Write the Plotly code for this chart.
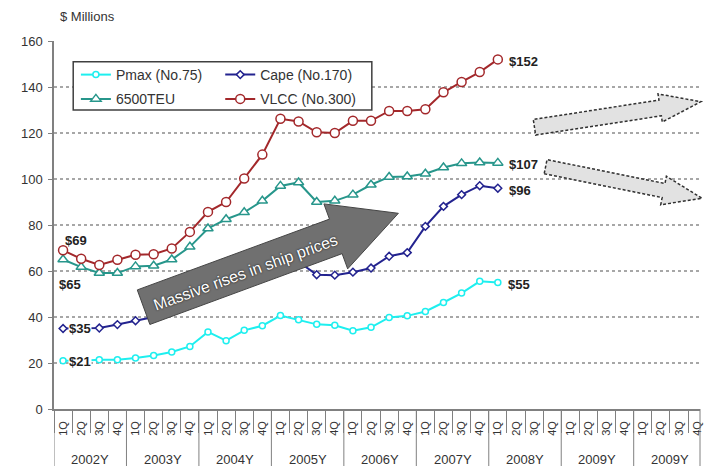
import math
import plotly.graph_objects as go

# Quarterly axis: four quarters inside each year group
quarters = ["1Q", "2Q", "3Q", "4Q"]
years = ["2002Y", "2003Y", "2004Y", "2005Y", "2006Y", "2007Y", "2008Y", "2009Y", "2009Y"]

# Newbuilding prices, $ millions, 2002 1Q .. 2008 1Q
pmax = [21, 21, 21.4, 21.4, 22.2, 23.3, 24.8, 27.2, 33.5, 29.7, 34.2, 36.2, 40.6,
        38.8, 36.8, 36.4, 34.0, 35.5, 39.8, 40.5, 42.4, 46.3, 50.4, 55.5, 55]
cape = [35, 35, 35.2, 36.7, 38.4, 40, 43, 47, 52, 56, 60, 63, 66,
        64, 58.4, 58.2, 59.5, 61.3, 66.4, 68.0, 79.4, 88.1, 93.2, 97.1, 96]
teu6500 = [65, 61.7, 59.1, 59.1, 62, 62.3, 65, 70.5, 78.5, 82.5, 85.5, 90.5, 97,
           98.5, 90, 90.5, 93.2, 97.5, 100.9, 101.1, 102.3, 105, 106.8, 107.2, 107]
vlcc = [69, 65.3, 62.6, 64.9, 67.1, 67.3, 69.8, 77, 85.7, 90, 100.2, 110.6, 126.2,
        125, 120.3, 120, 125.3, 125.3, 129.6, 129.6, 130.3, 137.7, 142.2, 146.5, 152]

series = [
    ("Pmax (No.75)", pmax, "#1EEFEF", "circle", 6, "legend"),
    ("Cape (No.170)", cape, "#23238F", "diamond", 6, "legend2"),
    ("6500TEU", teu6500, "#27968B", "triangle-up", 9, "legend3"),
    ("VLCC (No.300)", vlcc, "#A3282B", "circle", 9, "legend4"),
]

n_periods = len(years) * len(quarters)
periods = list(range(n_periods))
period_text = [q for _ in years for q in quarters]

# Figure geometry (pixels)
W, H = 712, 466
ML, MR, MT, MB = 54, 9, 41, 57
PW, PH = W - ML - MR, H - MT - MB
BOTTOM = H - MB


def px(x):
    return (x - ML) / PW


def py(y):
    return (BOTTOM - y) / PH


def block_arrow(tail, tip, body_hw, head_hw, head_len):
    (x0, y0), (x1, y1) = tail, tip
    dx, dy = x1 - x0, y1 - y0
    L = math.hypot(dx, dy)
    ux, uy = dx / L, dy / L
    nx, ny = -uy, ux
    bx, by = x1 - ux * head_len, y1 - uy * head_len
    pts = [
        (x0 + nx * body_hw, y0 + ny * body_hw),
        (bx + nx * body_hw, by + ny * body_hw),
        (bx + nx * head_hw, by + ny * head_hw),
        (x1, y1),
        (bx - nx * head_hw, by - ny * head_hw),
        (bx - nx * body_hw, by - ny * body_hw),
        (x0 - nx * body_hw, y0 - ny * body_hw),
    ]
    return "M " + " L ".join(f"{px(a):.4f},{py(b):.4f}" for a, b in pts) + " Z"


fig = go.Figure()

for name, vals, color, symbol, size, leg in series:
    fig.add_trace(go.Scatter(
        x=periods[:len(vals)], y=vals, name=name, mode="lines+markers",
        line=dict(color=color, width=2),
        marker=dict(symbol=symbol, size=size, color="white",
                    line=dict(color=color, width=1.5)),
        legend=leg, showlegend=True,
    ))

shapes = []
# dotted horizontal gridlines
for v in range(20, 160, 20):
    shapes.append(dict(type="line", xref="paper", yref="y", x0=0, x1=1, y0=v, y1=v,
                       line=dict(color="#8A8A8A", width=1.3, dash="3px,3px"), layer="below"))
# year group separators below the axis
for k in range(len(years)):
    xb = 4 * k - 0.5
    shapes.append(dict(type="line", xref="x", yref="paper", x0=xb, x1=xb, y0=0, y1=-MB / PH,
                       line=dict(color="#808080", width=1)))
shapes.append(dict(type="line", xref="paper", yref="paper", x0=1, x1=1, y0=0, y1=-MB / PH,
                   line=dict(color="#808080", width=1)))

# legend frame
shapes.append(dict(type="rect", xref="paper", yref="paper",
                   x0=px(73.3), x1=px(373.3), y0=py(110), y1=py(61.7),
                   fillcolor="white", line=dict(color="#404040", width=1.5), layer="above"))

# big dark arrow
shapes.append(dict(type="path", xref="paper", yref="paper",
                   path=block_arrow((144, 307.2), (400, 213.3), 18.4, 34.6, 67),
                   fillcolor="#707070", line=dict(color="#454545", width=1), layer="above"))
# light outlook arrows
shapes.append(dict(type="path", xref="paper", yref="paper",
                   path=block_arrow((536.7, 127.2), (704, 101.7), 7.9, 14.2, 41.5),
                   fillcolor="#E2E2E2", line=dict(color="#303030", width=1.5, dash="3px,2px"),
                   layer="above"))
shapes.append(dict(type="path", xref="paper", yref="paper",
                   path=block_arrow((547.9, 166.7), (705, 198.3), 7.2, 14.5, 39.4),
                   fillcolor="#E2E2E2", line=dict(color="#303030", width=1.5, dash="3px,2px"),
                   layer="above"))

annotations = []
for k, yr in enumerate(years):
    annotations.append(dict(text=yr, xref="x", yref="paper", x=4 * k + 1.5, y=py(459),
                            showarrow=False, xanchor="center", yanchor="middle",
                            font=dict(size=13, color="#333333")))

label_font = dict(size=13, color="#222222", family="Arial, Liberation Sans, sans-serif",
                  weight="bold")


def value_label(vals, idx, xshift, yshift, bg=None):
    d = dict(text=f"${vals[idx]:g}", xref="x", yref="y", x=idx, y=vals[idx],
             xanchor="left", yanchor="middle", xshift=xshift, yshift=yshift,
             showarrow=False, font=label_font, borderpad=0)
    if bg:
        d["bgcolor"] = bg
    return d


annotations += [
    value_label(vlcc, 0, 1, 10),
    value_label(teu6500, 0, -5, -25),
    value_label(cape, 0, 5, 0, "white"),
    value_label(pmax, 0, 5, -1, "white"),
    value_label(vlcc, len(vlcc) - 1, 10, -2),
    value_label(teu6500, len(teu6500) - 1, 10, -2),
    value_label(cape, len(cape) - 1, 10, -2),
    value_label(pmax, len(pmax) - 1, 9, -1.5),
]

annotations.append(dict(text="$ Millions", xref="paper", yref="paper", x=px(58), y=py(16),
                        xanchor="left", yanchor="middle", showarrow=False,
                        font=dict(size=13, color="#333333")))
annotations.append(dict(text="Massive rises in ship prices", xref="paper", yref="paper",
                        x=px(246), y=py(272), xanchor="center", yanchor="middle",
                        textangle=-20, showarrow=False,
                        font=dict(size=16, color="white",
                                  family="Liberation Sans, Arial, sans-serif",
                                  shadow="0px 0px 2px #000000")))

legend_common = dict(xanchor="left", yanchor="middle", bgcolor="rgba(0,0,0,0)",
                     borderwidth=0, font=dict(size=14, color="#333333"))

fig.update_layout(
    width=W, height=H,
    margin=dict(l=ML, r=MR, t=MT, b=MB),
    paper_bgcolor="white", plot_bgcolor="white",
    font=dict(family="Arial, Liberation Sans, sans-serif", color="#333333"),
    showlegend=True,
    shapes=shapes, annotations=annotations,
    legend=dict(x=px(76), y=py(75), **legend_common),
    legend2=dict(x=px(221), y=py(75), **legend_common),
    legend3=dict(x=px(76), y=py(99.3), **legend_common),
    legend4=dict(x=px(221), y=py(99.3), **legend_common),
    xaxis=dict(
        type="category", categoryorder="array", categoryarray=periods,
        range=[-0.5, 35.16], tickmode="array", tickvals=periods, ticktext=period_text,
        tickangle=-90, tickson="boundaries", ticks="outside", ticklen=22,
        tickcolor="#808080", showline=True, linecolor="#808080", linewidth=1.5,
        showgrid=False, zeroline=False, ticklabelstandoff=6,
        tickfont=dict(size=11, color="#333333"),
    ),
    yaxis=dict(
        range=[0, 160], tickvals=list(range(0, 161, 20)), showgrid=False, zeroline=False,
        showline=True, linecolor="#808080", linewidth=1.5, ticks="outside", ticklen=4,
        tickcolor="#808080", ticklabelstandoff=3, tickfont=dict(size=13, color="#333333"),
    ),
)

fig.write_html("out.html")
